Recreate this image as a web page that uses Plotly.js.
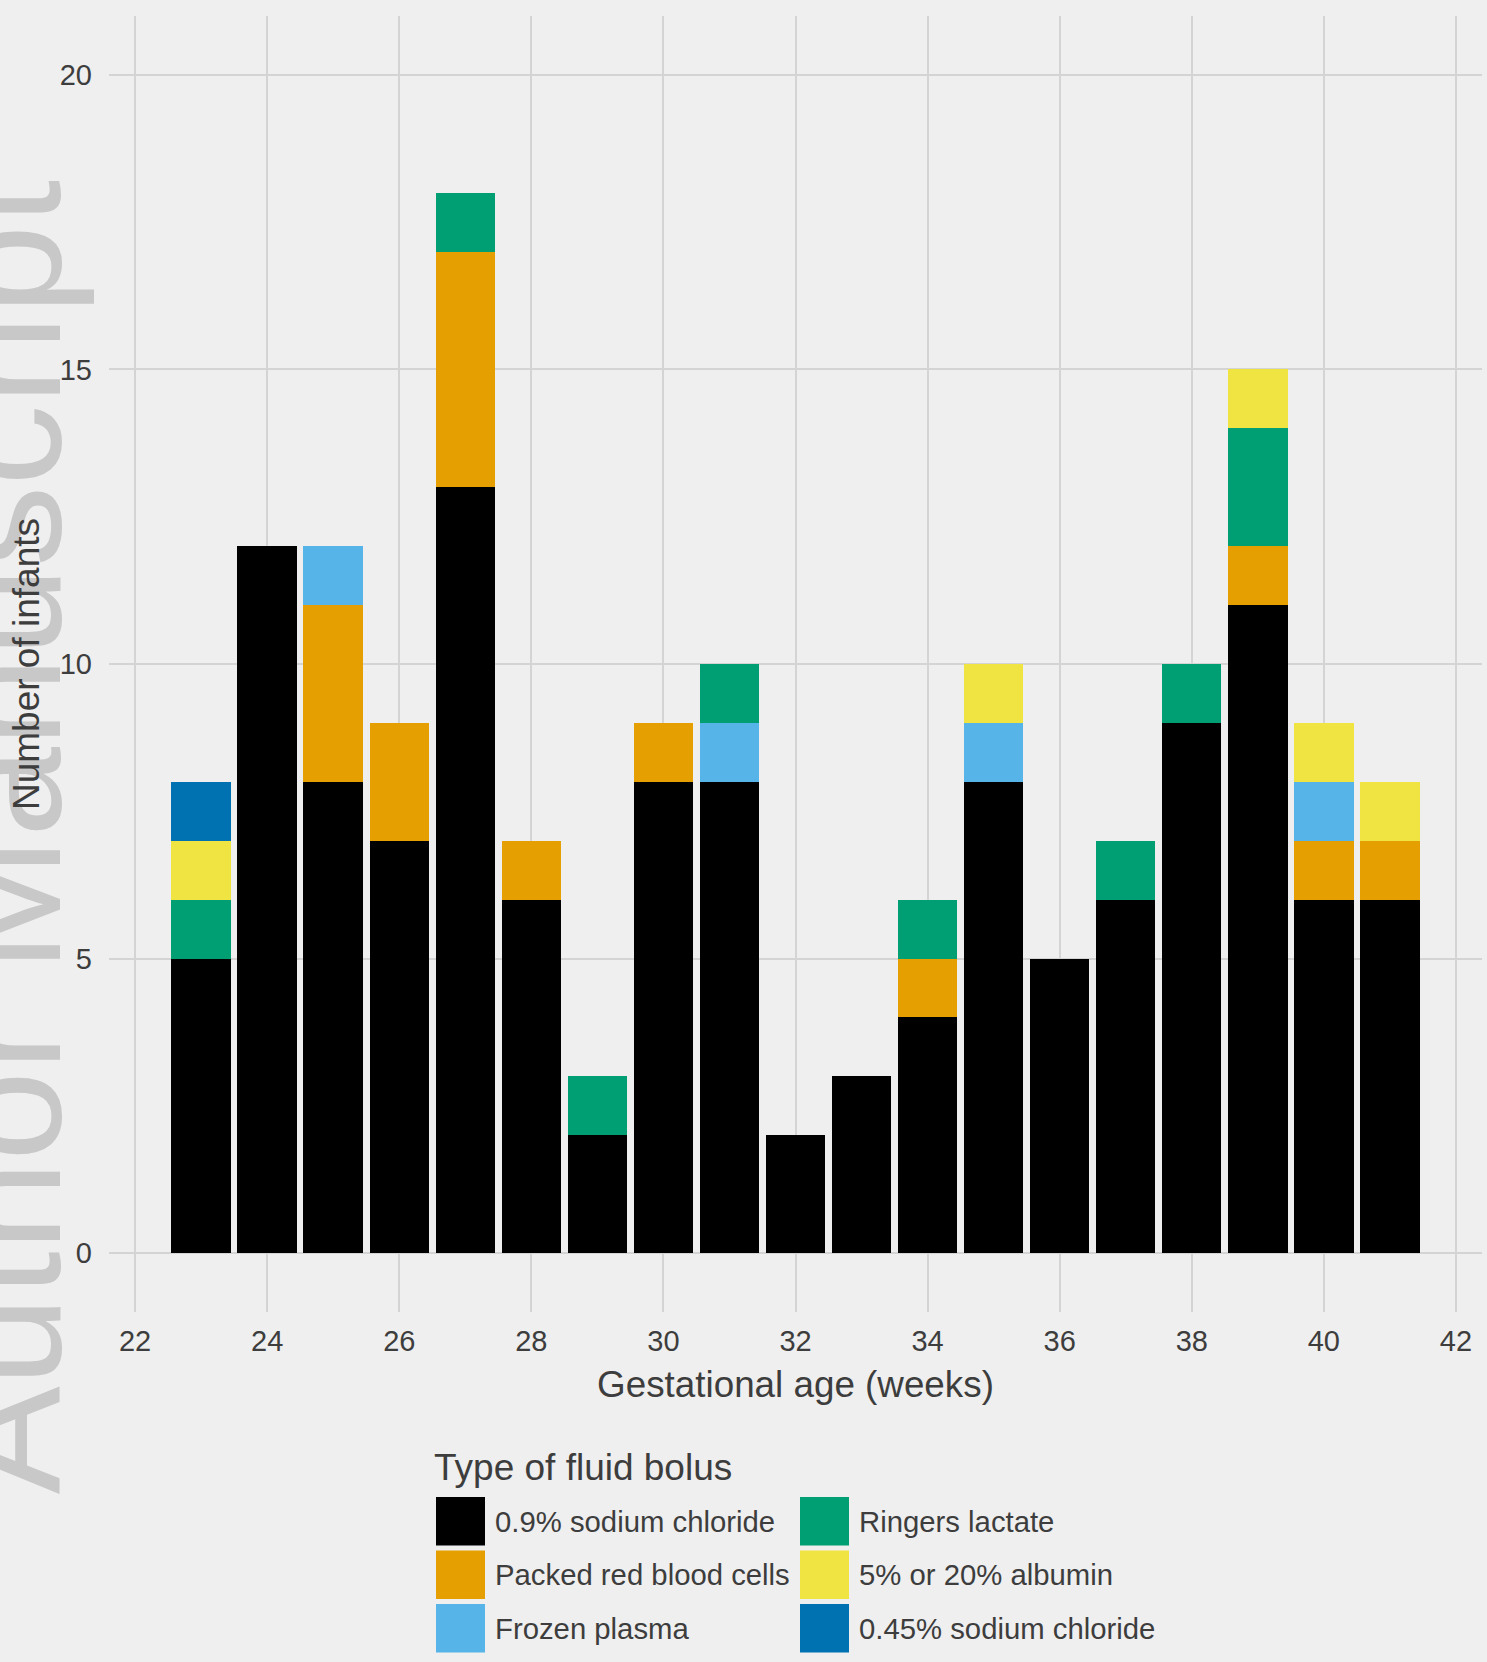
<!DOCTYPE html>
<html>
<head>
<meta charset="utf-8">
<script src="https://cdn.plot.ly/plotly-3.0.1.min.js"></script>
<style>
  html, body { margin: 0; padding: 0; background: #efefef; }
  #chart { width: 1487px; height: 1662px; }
</style>
</head>
<body>
<div id="chart"></div>
<script>
// Gestational age in weeks (one bar per week)
const weeks = [23, 24, 25, 26, 27, 28, 29, 30, 31, 32, 33, 34, 35, 36, 37, 38, 39, 40, 41];

// Number of infants receiving each type of fluid bolus, per week
const salineNormal   = [5, 12, 8, 7, 13, 6, 2, 8, 8, 2, 3, 4, 8, 5, 6, 9, 11, 6, 6];
const packedRbc      = [0, 0, 3, 2, 4, 1, 0, 1, 0, 0, 0, 1, 0, 0, 0, 0, 1, 1, 1];
const frozenPlasma   = [0, 0, 1, 0, 0, 0, 0, 0, 1, 0, 0, 0, 1, 0, 0, 0, 0, 1, 0];
const ringersLactate = [1, 0, 0, 0, 1, 0, 1, 0, 1, 0, 0, 1, 0, 0, 1, 1, 2, 0, 0];
const albumin        = [1, 0, 0, 0, 0, 0, 0, 0, 0, 0, 0, 0, 1, 0, 0, 0, 1, 1, 1];
const salineHalf     = [1, 0, 0, 0, 0, 0, 0, 0, 0, 0, 0, 0, 0, 0, 0, 0, 0, 0, 0];

const seriesNames = [
  "0.9% sodium chloride",
  "Packed red blood cells",
  "Frozen plasma",
  "Ringers lactate",
  "5% or 20% albumin",
  "0.45% sodium chloride"
];
const seriesValues = [salineNormal, packedRbc, frozenPlasma, ringersLactate, albumin, salineHalf];
const seriesColors = ["#000000", "#E69F00", "#56B4E9", "#009E73", "#F0E442", "#0072B2"];

const xTicks = [22, 24, 26, 28, 30, 32, 34, 36, 38, 40, 42];
const yTicks = [0, 5, 10, 15, 20];

// Page geometry
const W = 1487, H = 1662;
const M = { l: 109, r: 5, t: 16, b: 350 };
const PW = W - M.l - M.r, PH = H - M.t - M.b;
const toPaperX = px => (px - M.l) / PW;
const toPaperY = py => (H - M.b - py) / PH;

const FONT = "Liberation Sans, Arial, Helvetica, sans-serif";
const TEXT = "#3d3d3d";

// Stacked bar traces, bottom to top in series order
const traces = seriesNames.map((name, i) => ({
  type: "bar",
  name: name,
  x: weeks,
  y: seriesValues[i],
  marker: { color: seriesColors[i], line: { width: 0 } },
  showlegend: false,
  hoverinfo: "x+y+name"
}));

// Legend drawn as swatches + labels, two columns of three entries
const shapes = [];
const annotations = [];
const colLeft = [436, 800];
const rowTop = [1497, 1550.5, 1604];
const sw = 49, sh = 48.5;
seriesNames.forEach((name, i) => {
  const c = Math.floor(i / 3), r = i % 3;
  const x0 = colLeft[c], y0 = rowTop[r];
  shapes.push({
    type: "rect", xref: "paper", yref: "paper",
    x0: toPaperX(x0), x1: toPaperX(x0 + sw),
    y0: toPaperY(y0 + sh), y1: toPaperY(y0),
    fillcolor: seriesColors[i], line: { width: 0 }
  });
  annotations.push({
    xref: "paper", yref: "paper",
    x: toPaperX(x0 + sw + 8), y: toPaperY(y0 + sh / 2),
    xanchor: "left", yanchor: "middle",
    text: name, showarrow: false,
    font: { family: FONT, size: 29.3, color: TEXT }
  });
});
annotations.push({
  xref: "paper", yref: "paper",
  x: toPaperX(432), y: toPaperY(1467),
  xanchor: "left", yanchor: "middle",
  text: "Type of fluid bolus", showarrow: false,
  font: { family: FONT, size: 37, color: TEXT }
});

// Rotated "Author Manuscript" stamp along the left edge, behind the axis text
shapes.push({
  type: "rect", xref: "paper", yref: "paper", layer: "below",
  x0: toPaperX(-38), x1: toPaperX(14),
  y0: toPaperY(1500), y1: toPaperY(174),
  fillcolor: "rgba(0,0,0,0)", line: { width: 0 },
  label: {
    text: "Author Manuscript",
    textangle: -90,
    textposition: "middle center",
    font: { family: FONT, size: 162, color: "#c8c8c8" }
  }
});

const layout = {
  width: W, height: H,
  margin: M,
  paper_bgcolor: "#efefef",
  plot_bgcolor: "#efefef",
  barmode: "stack",
  bargap: 0.1,
  font: { family: FONT, color: TEXT },
  xaxis: {
    range: [21.605, 42.395],
    tickvals: xTicks,
    ticktext: xTicks.map(String),
    ticks: "",
    showline: false,
    zeroline: false,
    showgrid: true,
    gridcolor: "#d4d4d4",
    gridwidth: 2,
    tickfont: { family: FONT, size: 29, color: TEXT },
    ticklabelstandoff: 9,
    title: { text: "Gestational age (weeks)", font: { family: FONT, size: 36.8, color: TEXT }, standoff: 15 }
  },
  yaxis: {
    range: [-1, 21],
    tickvals: yTicks,
    ticktext: yTicks.map(String),
    ticks: "",
    showline: false,
    zeroline: false,
    showgrid: true,
    gridcolor: "#d4d4d4",
    gridwidth: 2,
    tickfont: { family: FONT, size: 29, color: TEXT },
    ticklabelstandoff: 16,
    title: { text: "Number of infants", font: { family: FONT, size: 37, color: TEXT }, standoff: 8 }
  },
  shapes: shapes,
  annotations: annotations
};

Plotly.newPlot("chart", traces, layout, { staticPlot: true, displayModeBar: false });
</script>
</body>
</html>
